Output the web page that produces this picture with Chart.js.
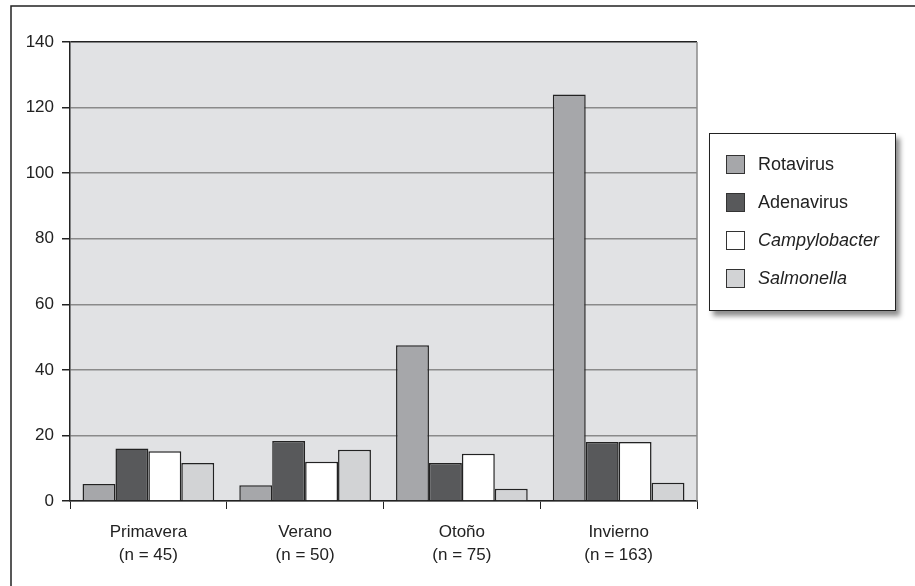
<!DOCTYPE html>
<html>
<head>
<meta charset="utf-8">
<script src="https://cdn.jsdelivr.net/npm/chart.js@4/dist/chart.umd.min.js"></script>
<style>
  body { margin: 0; background: #fff; }
  #wrap { position: relative; width: 915px; height: 586px; }
  #legend {
    position: absolute; left: 709px; top: 133px; width: 187px; height: 178px;
    border: 1px solid #222; background: #fff; box-sizing: border-box;
    box-shadow: 4px 5px 5px rgba(0,0,0,0.45);
    font-family: "Liberation Sans", Arial, sans-serif; font-size: 18px; color: #222;
    padding-top: 21px;
  }
  .item { position: relative; height: 38px; }
  .sw { position: absolute; left: 16px; top: 0px; width: 17px; height: 17px; border: 1px solid #333; }
  .lbl { position: absolute; left: 48px; top: -1px; }
</style>
</head>
<body>
<div id="wrap">
  <canvas id="chart" width="915" height="586"></canvas>
  <div id="legend"></div>
</div>
<script>
let seasons = [["Primavera", "(n = 45)"], ["Verano", "(n = 50)"], ["Otoño", "(n = 75)"], ["Invierno", "(n = 163)"]];
let seriesNames = ["Rotavirus", "Adenavirus", "Campylobacter", "Salmonella"];
let italicNames = [false, false, true, true];
let seriesColors = ["#a6a7aa", "#58595b", "#ffffff", "#d2d3d5"];
let rotavirus = [5.2, 4.8, 47.5, 124];
let adenavirus = [16, 18.3, 11.6, 18];
let campylobacter = [15.2, 12, 14.4, 18];
let salmonella = [11.6, 15.6, 3.7, 5.6];
let yTicks = [0, 20, 40, 60, 80, 100, 120, 140];

let seriesValues = [rotavirus, adenavirus, campylobacter, salmonella];

let frame = {
  id: "frame",
  beforeDraw(chart) {
    let ctx = chart.ctx;
    let a = chart.chartArea;
    ctx.save();
    ctx.fillStyle = "#e1e2e4";
    ctx.fillRect(a.left, a.top, a.right - a.left, a.bottom - a.top);
    ctx.strokeStyle = "#222";
    ctx.lineWidth = 1.5;
    ctx.beginPath();
    ctx.moveTo(11, chart.height);
    ctx.lineTo(11, 6);
    ctx.lineTo(chart.width, 6);
    ctx.stroke();
    ctx.restore();
  },
  afterDatasetsDraw(chart) {
    let ctx = chart.ctx;
    let a = chart.chartArea;
    ctx.save();
    ctx.strokeStyle = "#8a8a8a";
    ctx.lineWidth = 1.5;
    ctx.beginPath();
    ctx.moveTo(a.right, a.top);
    ctx.lineTo(a.right, a.bottom);
    ctx.stroke();
    ctx.restore();
  }
};

let font = { family: "'Liberation Sans', Arial, sans-serif", size: 17 };

new Chart(document.getElementById("chart").getContext("2d"), {
  type: "bar",
  data: {
    labels: seasons,
    datasets: seriesNames.map((name, i) => ({
      label: name,
      data: seriesValues[i],
      backgroundColor: seriesColors[i],
      borderColor: "#222",
      borderWidth: 1.5,
      categoryPercentage: 0.84,
      barPercentage: 1
    }))
  },
  options: {
    responsive: false,
    animation: false,
    layout: { padding: { left: 0, top: 42, right: 218, bottom: 0 } },
    plugins: { legend: { display: false }, tooltip: { enabled: false } },
    scales: {
      x: {
        afterFit(scale) { scale.height = 85; },
        grid: { drawOnChartArea: false, drawTicks: true, tickLength: 8, tickColor: "#222", offset: true },
        border: { color: "#222", width: 1.5 },
        ticks: { color: "#222", font: { ...font, lineHeight: 1.4 }, padding: 11 }
      },
      y: {
        min: 0,
        max: 140,
        afterFit(scale) { scale.width = 70; },
        afterBuildTicks(scale) { scale.ticks = yTicks.map(v => ({ value: v })); },
        grid: {
          color: c => c.tick && c.tick.value === 140 ? "#222" : "#8a8a8a",
          lineWidth: 1.5,
          tickLength: 8,
          tickColor: "#222"
        },
        border: { color: "#222", width: 1.5 },
        ticks: { color: "#222", font: font, padding: 8 }
      }
    }
  },
  plugins: [frame]
});

document.getElementById("legend").innerHTML = seriesNames.map((name, i) =>
  `<div class="item"><div class="sw" style="background:${seriesColors[i]}"></div>` +
  `<div class="lbl" style="font-style:${italicNames[i] ? "italic" : "normal"}">${name}</div></div>`
).join("");
</script>
</body>
</html>
